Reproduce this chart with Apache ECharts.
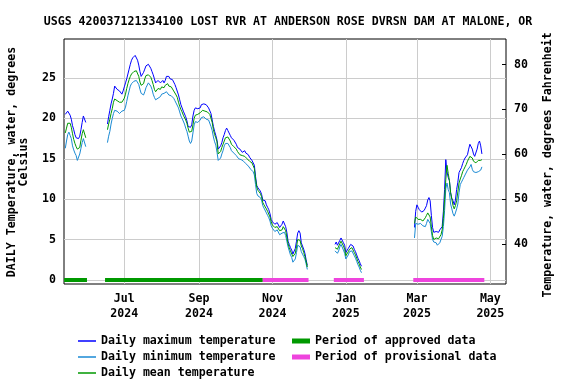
<!DOCTYPE html>
<html><head><meta charset="utf-8">
<script src="https://cdn.jsdelivr.net/npm/echarts@6/dist/echarts.min.js"></script>
<style>html,body{margin:0;padding:0;background:#fff}#c{width:576px;height:384px}</style>
</head><body><div id="c"></div>
<script>
const TITLE = 'USGS 420037121334100 LOST RVR AT ANDERSON ROSE DVRSN DAM AT MALONE, OR';
const segStarts = ['2024-05-13', '2024-06-17', '2024-12-23', '2025-02-27'];

const max1 = [20.5, 20.7, 20.9, 20.9, 20.4, 19.9, 19.1, 18.6, 18.0, 17.6, 17.4, 17.5, 17.8, 18.6, 19.5, 20.3, 20.5, 19.5];
const mean1 = [18.2, 18.8, 19.4, 19.6, 19.4, 18.9, 18.1, 17.4, 16.9, 16.5, 16.2, 16.2, 16.4, 17.3, 18.1, 18.6, 18.5, 17.6];
const min1 = [16.3, 17.2, 18.0, 18.3, 17.9, 17.5, 16.6, 16.1, 15.7, 15.4, 14.8, 15.0, 15.6, 16.3, 17.0, 17.5, 17.5, 16.5];

const max2 = [19.3, 20.2, 21.0, 21.8, 22.4, 23.1, 24.0, 24.2, 23.6, 23.6, 23.4, 23.2, 23.0, 23.4,
  23.9, 24.4, 24.9, 25.5, 26.1, 26.7, 27.2, 27.5, 27.7, 27.8,
  27.7, 27.2, 26.6, 25.8, 25.2, 25.2, 25.7, 26.1, 26.5, 26.7,
  26.7, 26.5, 26.2, 25.8, 25.4, 24.9, 24.4, 24.4, 24.7, 24.7,
  24.4, 24.6, 24.7, 24.4, 24.7, 25.2, 25.3, 25.2, 24.9, 24.8,
  24.8, 24.6, 24.2, 23.8, 23.6,
  22.9, 22.3, 21.7, 21.3,
  20.9, 20.8, 20.2, 19.7, 19.0, 18.8, 18.9, 19.2, 20.3, 21.0, 21.3,
  21.3, 21.2, 21.1, 21.3, 21.7, 21.9, 21.8, 21.7, 21.7, 21.5,
  21.3, 21.1, 20.6, 19.8, 19.0, 18.4, 17.9, 17.3, 16.2, 16.3,
  16.6, 17.0, 17.6, 18.0, 18.5, 18.8, 18.5, 18.2, 17.9, 17.6,
  17.5, 17.3, 17.2, 16.8, 16.4, 16.2, 16.2, 16.0, 15.8, 15.8,
  16.0, 15.7, 15.5, 15.5, 15.2, 15.0, 14.8, 14.7, 14.2, 12.8,
  11.7, 11.4, 11.3, 11.0, 10.6, 9.9, 9.9, 9.8, 9.3, 9.0,
  8.7, 8.2, 7.5, 7.2, 7.1, 6.9, 7.0, 7.1, 6.9, 6.5,
  6.5, 6.9, 7.3, 7.1, 6.6, 5.9, 4.8, 4.4, 4.0, 3.7,
  3.2, 3.1, 3.9, 4.8, 5.8, 6.1, 5.8, 4.6, 4.2, 3.8,
  3.3, 2.5, 1.8];
const mean2 = [18.6, 19.3, 19.9, 20.6, 21.2, 22.0, 22.4, 22.4, 22.2, 22.1, 22.0, 21.9, 22.0, 22.2,
  22.5, 23.0, 23.7, 24.3, 24.8, 25.2, 25.5, 25.7, 25.8, 26.0,
  25.9, 25.7, 25.2, 24.5, 24.1, 24.0, 24.3, 24.9, 25.3, 25.4,
  25.4, 25.3, 25.1, 24.7, 24.2, 23.6, 23.3, 23.5, 23.7, 23.7,
  23.6, 23.9, 23.9, 23.8, 24.1, 24.3, 24.3, 24.0, 24.0, 23.9,
  23.8, 23.4, 23.2, 22.9, 22.6,
  22.0, 21.5, 21.1, 20.8,
  20.4, 20.2, 19.8, 19.4, 18.8, 18.3, 18.1, 18.4, 19.2, 20.0, 20.4,
  20.5, 20.5, 20.5, 20.7, 20.9, 21.0, 21.0, 20.9, 20.9, 20.8,
  20.7, 20.5, 20.0, 19.5, 18.6, 18.0, 17.6, 17.1, 15.6, 15.6,
  15.9, 16.4, 16.8, 17.2, 17.6, 17.8, 17.7, 17.5, 17.2, 16.8,
  16.7, 16.5, 16.4, 16.2, 15.9, 15.7, 15.5, 15.5, 15.4, 15.3,
  15.3, 15.2, 15.0, 14.9, 14.7, 14.6, 14.5, 14.3, 13.8, 12.5,
  11.5, 11.1, 10.9, 10.7, 10.3, 9.6, 9.3, 9.2, 8.8, 8.5,
  8.3, 7.8, 7.2, 6.8, 6.7, 6.5, 6.6, 6.6, 6.4, 6.1,
  6.0, 6.2, 6.6, 6.5, 6.1, 5.3, 4.5, 4.0, 3.6, 3.4,
  2.9, 2.8, 3.3, 4.1, 5.0, 5.0, 4.9, 4.2, 3.9, 3.4,
  2.9, 2.3, 1.6];
const min2 = [17.0, 17.8, 18.4, 19.3, 20.0, 20.6, 21.0, 21.1, 20.9, 20.8, 20.6, 20.6, 20.9, 20.9,
  21.0, 21.4, 22.1, 22.8, 23.4, 24.0, 24.3, 24.5, 24.6, 24.8,
  24.7, 24.5, 24.2, 23.6, 23.1, 22.9, 22.9, 23.3, 23.8, 24.0,
  24.4, 24.2, 24.0, 23.6, 23.0, 22.6, 22.3, 22.3, 22.5, 22.7,
  22.7, 23.0, 23.1, 23.1, 23.3, 23.3, 23.2, 22.9, 22.9, 22.8,
  22.7, 22.5, 22.2, 21.9, 21.7,
  21.3, 20.8, 20.3, 20.0,
  19.8, 19.3, 18.8, 18.4, 17.8, 17.2, 16.9, 17.2, 18.2, 19.2, 19.6,
  19.7, 19.5, 19.6, 19.8, 20.1, 20.3, 20.2, 20.1, 19.9, 19.9,
  19.8, 19.7, 19.0, 18.5, 17.7, 17.1, 16.7, 15.8, 14.8, 14.8,
  15.1, 15.6, 16.0, 16.6, 16.9, 17.0, 16.9, 16.7, 16.4, 16.0,
  15.9, 15.7, 15.6, 15.4, 15.2, 15.0, 14.9, 14.9, 14.8, 14.7,
  14.6, 14.4, 14.3, 14.1, 13.9, 13.7, 13.5, 13.4, 13.0, 11.8,
  10.7, 10.4, 10.3, 10.2, 9.9, 9.2, 8.9, 8.7, 8.3, 8.0,
  7.7, 7.3, 6.7, 6.4, 6.2, 6.0, 6.2, 6.2, 6.0, 5.6,
  5.5, 5.8, 6.0, 5.9, 5.5, 4.8, 4.1, 3.6, 3.1, 2.8,
  2.2, 2.1, 2.6, 3.4, 4.3, 4.3, 4.1, 3.5, 3.2, 2.9,
  2.6, 2.0, 1.3];

const max3 = [4.4, 4.7, 4.3, 4.5, 4.9, 5.2, 5.0, 4.6, 4.3, 3.4, 3.6, 3.9, 4.1, 4.4, 4.4, 4.2, 3.8, 3.5, 3.1, 2.7, 2.4, 2.0, 1.7];
const mean3 = [4.0, 4.2, 3.8, 4.0, 4.5, 4.8, 4.7, 4.2, 3.8, 3.0, 3.2, 3.5, 3.8, 4.0, 4.0, 3.8, 3.4, 3.1, 2.7, 2.3, 2.0, 1.6, 1.3];
const min3 = [3.6, 3.8, 3.3, 3.6, 4.1, 4.4, 4.3, 3.7, 3.3, 2.6, 2.8, 3.1, 3.5, 3.6, 3.6, 3.4, 3.0, 2.7, 2.3, 1.9, 1.6, 1.2, 0.9];

const max4 = [6.5, 8.5, 9.3, 9.0, 8.7, 8.6, 8.4, 8.3, 8.6, 8.9, 9.2, 9.9, 10.2, 9.8,
  8.0, 6.5, 5.9, 5.9, 6.0, 5.8, 5.9, 6.2, 6.0, 6.6,
  8.5, 11.2, 14.9, 13.4, 12.7, 12.3, 10.8, 10.1, 9.8, 9.3,
  9.9, 11.2, 12.1, 13.3, 13.6, 13.9, 14.4, 14.8, 15.1, 15.3,
  15.5, 16.2, 16.8, 17.0, 16.2, 15.6, 15.3, 15.5, 16.2, 16.9, 17.2, 16.6, 15.6];
const mean4 = [7.0, 7.8, 7.6, 7.5, 7.7, 7.5, 7.4, 7.3, 7.5, 7.7, 8.0, 8.3, 8.2, 7.8,
  6.6, 5.5, 5.0, 5.1, 5.2, 5.0, 5.1, 5.3, 5.6, 6.2,
  7.6, 10.0, 12.4, 14.2, 13.2, 12.3, 10.8, 10.0, 9.2, 8.8,
  9.2, 9.8, 10.9, 12.0, 12.5, 12.9, 13.4, 13.7, 14.0, 14.3,
  14.7, 15.0, 15.3, 15.5, 15.1, 14.7, 14.5, 14.5, 14.6, 14.8, 14.9, 14.8, 14.9];
const min4 = [5.2, 7.0, 7.0, 6.9, 7.1, 7.0, 6.8, 6.7, 6.5, 6.6, 7.0, 7.5, 7.4, 7.0,
  6.0, 5.0, 4.7, 4.6, 4.6, 4.3, 4.3, 4.6, 5.0, 5.4,
  6.6, 8.6, 11.3, 12.0, 11.2, 10.8, 9.4, 8.8, 8.2, 7.9,
  8.3, 8.8, 9.4, 10.8, 11.8, 12.1, 12.4, 12.7, 13.0, 13.2,
  13.6, 13.8, 14.0, 14.3, 13.7, 13.4, 13.3, 13.3, 13.4, 13.4, 13.3, 13.6, 14.0];

const approvedPeriods = [['2024-05-12', '2024-05-31'], ['2024-06-15', '2024-10-24']];
const provisionalPeriods = [['2024-10-24', '2024-12-01'], ['2024-12-22', '2025-01-16'], ['2025-02-26', '2025-04-26']];

const xTickDates = ['2024-07-01', '2024-09-01', '2024-11-01', '2025-01-01', '2025-03-01', '2025-05-01'];
const xTickLabels = ['Jul\n2024', 'Sep\n2024', 'Nov\n2024', 'Jan\n2025', 'Mar\n2025', 'May\n2025'];
const yTicksC = [0, 5, 10, 15, 20, 25];
const yTicksF = [40, 50, 60, 70, 80];
const xRange = ['2024-05-11T22:00:00Z', '2025-05-14T00:00:00Z'];
const yRangeC = [-0.5, 29.83];

const DAY = 86400000;
const ts = s => new Date(s).getTime();
function build(segs) {
  const out = [];
  segs.forEach((vals, k) => {
    const t0 = ts(segStarts[k]);
    vals.forEach((v, i) => out.push([t0 + i * DAY, v]));
    out.push([t0 + vals.length * DAY, null]);
  });
  return out;
}
function periods(list) {
  const out = [];
  list.forEach(p => { out.push([ts(p[0]), 0]); out.push([ts(p[1]), 0]); out.push([ts(p[1]) + 1, null]); });
  return out;
}
const cToF = c => c * 1.8 + 32;
const xTickTs = xTickDates.map(ts);
const FONT = 'DejaVu Sans Mono';
const txt = { fontFamily: FONT, fontWeight: 'bold', fontSize: 11.6, color: '#000' };

const chart = echarts.init(document.getElementById('c'), null, { renderer: 'canvas' });
chart.setOption({
  animation: false,
  backgroundColor: '#fff',
  title: { text: TITLE, left: 'center', top: 11, textStyle: Object.assign({}, txt) },
  grid: { left: 64, right: 70, top: 39, bottom: 100, show: true, borderColor: '#000', borderWidth: 1, backgroundColor: 'transparent' },
  xAxis: {
    type: 'value', min: ts(xRange[0]), max: ts(xRange[1]),
    axisLine: { show: false },
    axisTick: { show: false, customValues: xTickTs },
    splitLine: { show: true, lineStyle: { color: '#cccccc', width: 1 } },
    axisLabel: { customValues: xTickTs, margin: 7, lineHeight: 15, formatter: v => xTickLabels[xTickTs.indexOf(v)] || '', ...txt }
  },
  yAxis: [
    {
      type: 'value', min: yRangeC[0], max: yRangeC[1], position: 'left',
      axisLine: { show: false },
      axisTick: { show: false, customValues: yTicksC },
      splitLine: { show: true, lineStyle: { color: '#cccccc', width: 1 } },
      axisLabel: { customValues: yTicksC, margin: 8, ...txt }
    },
    {
      type: 'value', min: cToF(yRangeC[0]), max: cToF(yRangeC[1]), position: 'right',
      axisLine: { show: false },
      axisTick: { show: true, inside: true, length: 4, customValues: yTicksF, lineStyle: { color: '#000' } },
      splitLine: { show: false },
      axisLabel: { customValues: yTicksF, margin: 8, ...txt }
    }
  ],
  legend: [
    {
      data: ['Daily maximum temperature', 'Daily minimum temperature', 'Daily mean temperature'],
      orient: 'vertical', left: 78, top: 333, padding: 0, itemWidth: 18, itemHeight: 1.5, itemGap: 0,
      icon: 'rect', textStyle: Object.assign({ lineHeight: 16 }, txt), selectedMode: false
    },
    {
      data: ['Period of approved data', 'Period of provisional data'],
      orient: 'vertical', left: 292, top: 333, padding: 0, itemWidth: 18, itemHeight: 5, itemGap: 0,
      icon: 'rect', textStyle: Object.assign({ lineHeight: 16 }, txt), selectedMode: false
    }
  ],
  graphic: [
    { type: 'text', x: 18, y: 162, rotation: Math.PI / 2,
      style: { text: 'DAILY Temperature, water, degrees\nCelsius', align: 'center', verticalAlign: 'middle',
        font: 'bold 11.6px "DejaVu Sans Mono"', lineHeight: 12, fill: '#000' } },
    { type: 'text', x: 548, y: 165, rotation: Math.PI / 2,
      style: { text: 'Temperature, water, degrees Fahrenheit', align: 'center', verticalAlign: 'middle',
        font: 'bold 11.6px "DejaVu Sans Mono"', fill: '#000' } }
  ],
  series: [
    { name: 'Period of approved data', type: 'line', data: periods(approvedPeriods), symbol: 'none', color: '#009900', lineStyle: { width: 4, color: '#009900' } },
    { name: 'Period of provisional data', type: 'line', data: periods(provisionalPeriods), symbol: 'none', color: '#ee44dd', lineStyle: { width: 4, color: '#ee44dd' } },
    { name: 'Daily maximum temperature', type: 'line', data: build([max1, max2, max3, max4]), symbol: 'none', color: '#0000ff', lineStyle: { width: 1, color: '#0000ff' } },
    { name: 'Daily minimum temperature', type: 'line', data: build([min1, min2, min3, min4]), symbol: 'none', color: '#1a8ad4', lineStyle: { width: 1, color: '#1a8ad4' } },
    { name: 'Daily mean temperature', type: 'line', data: build([mean1, mean2, mean3, mean4]), symbol: 'none', color: '#009900', lineStyle: { width: 1, color: '#009900' } }
  ]
});
</script>
</body></html>
